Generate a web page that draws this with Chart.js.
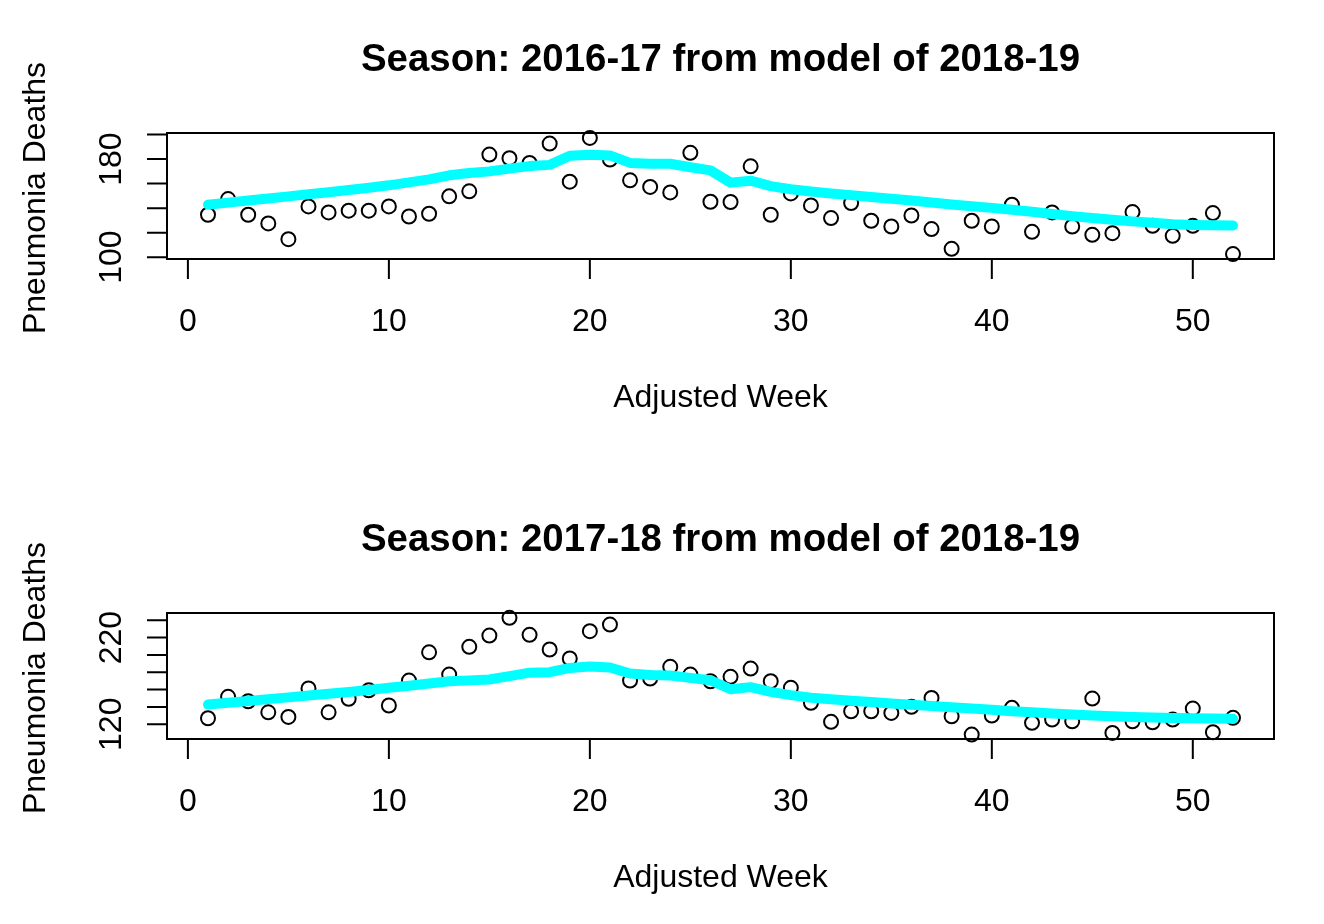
<!DOCTYPE html>
<html>
<head>
<meta charset="utf-8">
<script src="https://cdn.jsdelivr.net/npm/chart.js@4.4.1/dist/chart.umd.min.js"></script>
<style>
  html, body { margin: 0; padding: 0; background: #ffffff; }
  #wrap { position: relative; width: 1324px; height: 924px; overflow: hidden; }
  canvas { position: absolute; left: 0; }
</style>
</head>
<body>
<div id="wrap">
  <canvas id="c1" width="1324" height="480" style="top:0px"></canvas>
  <canvas id="c2" width="1324" height="444" style="top:480px"></canvas>
</div>
<script>
// ---------------- DATA ----------------
const weeks = [1,2,3,4,5,6,7,8,9,10,11,12,13,14,15,16,17,18,19,20,21,22,23,24,25,26,
               27,28,29,30,31,32,33,34,35,36,37,38,39,40,41,42,43,44,45,46,47,48,49,50,51,52];

const xTicks = [0, 10, 20, 30, 40, 50];

// Season 2016-17 observed deaths
const obs1617 = [134.6,147.4,134.6,127.5,114.7,141.4,136.5,137.9,137.9,141.4,133.2,135.4,149.6,153.7,
                 183.7,180.7,176.9,192.7,161.6,197.3,179.6,162.7,157.3,152.8,185.1,145.2,
                 145.0,174.1,134.6,152.0,142.2,131.9,144.2,129.7,125.0,134.0,122.9,106.8,129.7,125.0,
                 142.8,120.7,136.5,125.0,118.2,119.6,136.8,125.6,117.4,125.6,136.0,102.5];
// Season 2016-17 fitted model curve
const fit1617 = [142.8,144.5,146.2,147.9,149.6,151.3,153.0,154.8,156.6,158.6,161.0,163.5,166.8,168.6,
                 170.0,172.2,174.3,175.3,182.8,183.6,183.0,176.9,176.2,176.2,173.4,170.8,
                 160.8,162.4,158.0,155.4,153.6,152.0,150.6,149.1,147.7,146.2,144.6,143.0,141.6,140.2,
                 138.7,137.0,135.2,133.5,131.9,130.6,129.2,128.0,126.9,126.3,126.0,125.8];
const yTicks1617 = [100, 120, 140, 160, 180, 200];
const yLabels1617 = [100, 180];

// Season 2017-18 observed deaths
const obs1718 = [126.9,151.6,146.5,133.8,128.5,161.2,133.8,149.3,159.2,141.6,170.4,203.0,177.3,209.3,
                 222.3,242.7,223.1,206.2,195.8,227.3,235.0,170.4,172.7,186.2,177.3,169.6,
                 174.7,184.2,169.6,162.0,144.7,122.8,135.0,135.0,133.1,140.1,150.4,129.2,108.1,130.0,
                 138.9,121.6,125.4,123.5,149.6,110.0,123.5,122.3,125.4,138.1,110.8,127.4];
// Season 2017-18 fitted model curve
const fit1718 = [142.7,144.8,146.9,149.0,151.0,153.1,155.2,157.3,159.5,162.0,164.5,167.0,169.6,170.6,
                 171.6,175.5,179.5,180.0,185.0,186.5,185.5,178.5,176.8,176.3,173.5,170.8,
                 160.3,162.8,157.4,153.6,150.6,148.9,147.2,145.6,144.0,142.5,141.0,139.5,138.1,136.6,
                 135.1,133.8,132.5,131.2,130.1,129.2,128.4,127.8,127.3,126.9,126.6,126.3];
const yTicks1718 = [120, 140, 160, 180, 200, 220, 240];
const yLabels1718 = [120, 220];

const title1617 = "Season: 2016-17 from model of 2018-19";
const title1718 = "Season: 2017-18 from model of 2018-19";
const xTitle = "Adjusted Week";
const yTitle = "Pneumonia Deaths";

// ---------------- RENDER ----------------
const FONT = '"Liberation Sans", Arial, Helvetica, sans-serif';

function makePanel(canvasId, title, obs, fit, yMin, yMax, yTicks, yLabels) {
  const ctx = document.getElementById(canvasId).getContext('2d');

  const rAxes = {
    id: 'rAxes',
    afterDraw(chart) {
      const c = chart.ctx;
      const a = chart.chartArea;
      const xs = chart.scales.x, ys = chart.scales.y;
      c.save();
      c.strokeStyle = '#000';
      c.fillStyle = '#000';
      c.lineWidth = 2;
      // box
      c.strokeRect(a.left, a.top, a.right - a.left, a.bottom - a.top);
      // x axis ticks
      c.beginPath();
      const x0 = xs.getPixelForValue(xTicks[0]);
      const x1 = xs.getPixelForValue(xTicks[xTicks.length - 1]);
      c.moveTo(x0, a.bottom); c.lineTo(x1, a.bottom);
      xTicks.forEach(v => {
        const px = xs.getPixelForValue(v);
        c.moveTo(px, a.bottom); c.lineTo(px, a.bottom + 20);
      });
      // y axis ticks
      const y0 = ys.getPixelForValue(yTicks[0]);
      const y1 = ys.getPixelForValue(yTicks[yTicks.length - 1]);
      c.moveTo(a.left, y0); c.lineTo(a.left, y1);
      yTicks.forEach(v => {
        const py = ys.getPixelForValue(v);
        c.moveTo(a.left, py); c.lineTo(a.left - 20, py);
      });
      c.stroke();
      // x tick labels
      c.font = '32px ' + FONT;
      c.textAlign = 'center';
      c.textBaseline = 'alphabetic';
      xTicks.forEach(v => {
        c.fillText(String(v), xs.getPixelForValue(v), a.bottom + 72);
      });
      // y tick labels (rotated)
      yLabels.forEach(v => {
        const py = ys.getPixelForValue(v);
        c.save();
        c.translate(a.left - 46, py);
        c.rotate(-Math.PI / 2);
        c.textAlign = 'center';
        c.fillText(String(v), 0, 0);
        c.restore();
      });
      // axis titles
      const cx = (a.left + a.right) / 2;
      c.fillText(xTitle, cx, a.bottom + 148);
      c.save();
      c.translate(45, (a.top + a.bottom) / 2 + 2);
      c.rotate(-Math.PI / 2);
      c.textAlign = 'center';
      c.fillText(yTitle, 0, 0);
      c.restore();
      // main title
      c.font = 'bold 38.4px ' + FONT;
      c.textAlign = 'center';
      c.fillText(title, cx, a.top - 62);
      c.restore();
    }
  };

  return new Chart(ctx, {
    type: 'scatter',
    data: {
      datasets: [
        {
          type: 'line',
          label: 'model',
          data: weeks.map((w, i) => ({ x: w, y: fit[i] })),
          borderColor: '#00FFFF',
          backgroundColor: '#00FFFF',
          borderWidth: 10,
          borderCapStyle: 'round',
          borderJoinStyle: 'round',
          pointRadius: 0,
          tension: 0,
          fill: false,
          clip: false
        },
        {
          type: 'scatter',
          label: 'observed',
          data: weeks.map((w, i) => ({ x: w, y: obs[i] })),
          pointStyle: 'circle',
          pointRadius: 7,
          pointBorderWidth: 2,
          borderColor: '#000',
          backgroundColor: 'rgba(0,0,0,0)',
          pointBackgroundColor: 'rgba(0,0,0,0)',
          pointBorderColor: '#000',
          clip: false
        }
      ]
    },
    options: {
      responsive: false,
      animation: false,
      devicePixelRatio: 1,
      layout: { padding: { left: 167, right: 50, top: 133, bottom: chartBottomPad(canvasId) } },
      plugins: { legend: { display: false }, tooltip: { enabled: false }, title: { display: false } },
      scales: {
        x: { type: 'linear', min: -1.04, max: 54.04, display: false },
        y: { type: 'linear', min: yMin, max: yMax, display: false }
      }
    },
    plugins: [rAxes]
  });
}

function chartBottomPad(id) {
  const h = document.getElementById(id).height;
  return h - 259;
}

makePanel('c1', title1617, obs1617, fit1617, 98.5, 201.3, yTicks1617, yLabels1617);
makePanel('c2', title1718, obs1718, fit1718, 103.0, 248.3, yTicks1718, yLabels1718);
</script>
</body>
</html>
